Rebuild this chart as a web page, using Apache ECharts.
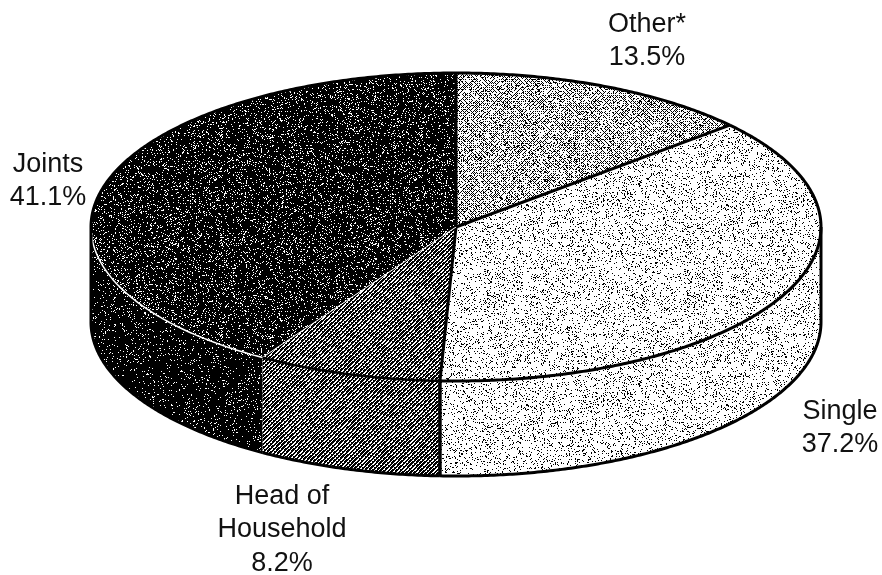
<!DOCTYPE html>
<html>
<head>
<meta charset="utf-8">
<title>Returns by filing status</title>
<style>
html, body { margin: 0; padding: 0; background: #fff; }
#chart { width: 882px; height: 575px; }
</style>
<script src="https://cdn.jsdelivr.net/npm/echarts@6/dist/echarts.min.js"></script>
</head>
<body>
<div id="chart"></div>
<script>
// clockwise from 12 o'clock
var categories = ["Other*", "Single", "Head of\nHousehold", "Joints"];
var shares = [13.5, 37.2, 8.2, 41.1];

// pie geometry, in pixels
var cx = 456, cy = 227, rx = 365, ry = 154, depth = 95;
var labelPos = [[647, 41], [840, 428], [282, 530], [48, 181]];
var rimColor = ["#000", "#000", "#000", "#fff"];
var rimWidth = [3, 3, 2.5, 1.5];

/* stipple texture, dots picked with a fixed hash so each run looks the same */
function hash(x, y, seed) {
    var h = Math.imul(x + 1, 374761393) ^ Math.imul(y + 1, 668265263) ^ Math.imul(seed, 2147483647);
    h = Math.imul(h ^ (h >>> 13), 1274126177);
    h = h ^ (h >>> 16);
    return (h >>> 0) / 4294967296;
}

function makeTexture(paint) {
    var size = 200;
    var canvas = document.createElement("canvas");
    canvas.width = size;
    canvas.height = size;
    var ctx = canvas.getContext("2d");
    var img = ctx.createImageData(size, size);
    for (var y = 0; y < size; y++) {
        for (var x = 0; x < size; x++) {
            var v = paint(x, y) ? 255 : 0;
            var i = (y * size + x) * 4;
            img.data[i] = img.data[i + 1] = img.data[i + 2] = v;
            img.data[i + 3] = 255;
        }
    }
    ctx.putImageData(img, 0, 0);
    return { image: canvas, repeat: "repeat" };
}

var textures = {
    light: makeTexture(function(x, y) { return hash(x, y, 1) > 0.13; }),
    // diamond lattice with some of its dots knocked out
    dots: makeTexture(function(x, y) {
        var onLattice = (x + y) % 4 === 0 || (x - y + 400) % 4 === 0;
        return onLattice ? hash(x, y, 2) > 0.72 : hash(x, y, 3) > 0.08;
    }),
    hatch: makeTexture(function(x, y) {
        var d = (x + y) % 4;
        return d === 0 || (d === 1 && hash(x, y, 4) > 0.5);
    }),
    dark: makeTexture(function(x, y) { return hash(x, y, 5) > 0.88; }),
    darkSide: makeTexture(function(x, y) { return hash(x, y, 6) > 0.93; })
};
var topFill = [textures.dots, textures.light, textures.hatch, textures.dark];
var sideFill = [textures.dots, textures.light, textures.hatch, textures.darkSide];

function rimPoint(deg, drop) {
    var a = deg * Math.PI / 180;
    return [cx + rx * Math.sin(a), cy - ry * Math.cos(a) + (drop || 0)];
}

function arcPoints(from, to, drop) {
    var pts = [];
    var steps = Math.max(2, Math.ceil(Math.abs(to - from) * 2));
    for (var i = 0; i <= steps; i++) {
        pts.push(rimPoint(from + (to - from) * i / steps, drop));
    }
    return pts;
}

function line(points, color, width, z) {
    return {
        type: "polyline",
        z2: z,
        shape: { points: points },
        style: { fill: null, stroke: color, lineWidth: width, lineJoin: "round" }
    };
}

function renderSlice(params, api) {
    var i = params.dataIndex;
    var total = shares.reduce(function(a, b) { return a + b; }, 0);
    var before = 0;
    for (var k = 0; k < i; k++) before += shares[k];
    var start = before / total * 360;
    var end = (before + api.value(0)) / total * 360;
    var children = [];

    // top face
    children.push({
        type: "polygon",
        z2: 2,
        shape: { points: [[cx, cy]].concat(arcPoints(start, end)) },
        style: { fill: topFill[i], stroke: null }
    });

    // the wall only shows on the front half
    var wallFrom = Math.max(start, 90), wallTo = Math.min(end, 270);
    if (wallTo > wallFrom) {
        children.push({
            type: "polygon",
            z2: 1,
            shape: { points: arcPoints(wallFrom, wallTo).concat(arcPoints(wallTo, wallFrom, depth)) },
            style: { fill: sideFill[i], stroke: null }
        });
        children.push(line(arcPoints(wallFrom, wallTo, depth), "#000", 3, 6));
        children.push(line(arcPoints(wallFrom, wallTo), rimColor[i], rimWidth[i], 6));
        if (wallFrom === 90) {
            children.push(line([rimPoint(90), rimPoint(90, depth)], "#000", 3, 6));
        }
        if (wallTo === 270) {
            children.push(line([rimPoint(270), rimPoint(270, depth)], "#000", 3, 6));
        }
        // Single / Head of Household edge down the wall
        if (i === 1) {
            children.push(line([rimPoint(end), rimPoint(end, depth)], "#000", 3.5, 6));
        }
    }

    // back part of the rim
    if (start < 90) {
        children.push(line(arcPoints(start, Math.min(end, 90)), "#000", 3, 6));
    }
    if (end > 270) {
        children.push(line(arcPoints(Math.max(start, 270), end), "#000", 3, 6));
    }

    // edge to the next slice
    var edgeColor = i === 2 ? "#fff" : "#000";
    children.push(line([[cx, cy], rimPoint(end)], edgeColor, i === 2 ? 1 : 3, 5));

    children.push({
        type: "text",
        z2: 10,
        style: {
            x: labelPos[i][0],
            y: labelPos[i][1],
            text: categories[i] + "\n" + shares[i] + "%",
            fill: "#111",
            fontSize: 27,
            fontFamily: "Liberation Sans, Arial, sans-serif",
            align: "center",
            verticalAlign: "middle",
            lineHeight: 33.5
        }
    });

    return { type: "group", children: children };
}

var chart = echarts.init(document.getElementById("chart"), null, { renderer: "canvas" });
chart.setOption({
    animation: false,
    backgroundColor: "#fff",
    series: [{
        type: "custom",
        coordinateSystem: "none",
        silent: true,
        renderItem: renderSlice,
        encode: { value: 0 },
        data: shares.map(function(v, i) {
            return { name: categories[i], value: [v] };
        })
    }]
});
</script>
</body>
</html>
